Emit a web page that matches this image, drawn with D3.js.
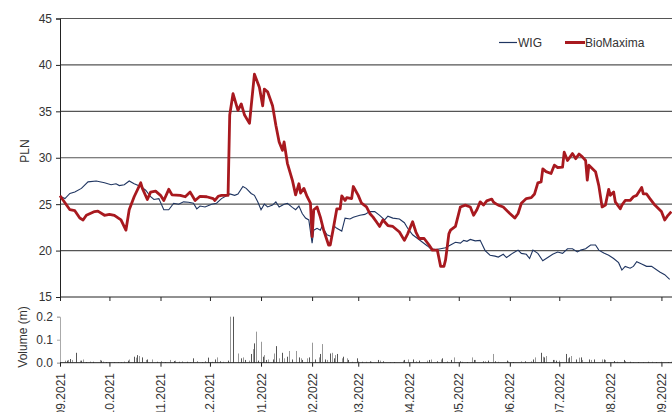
<!DOCTYPE html>
<html><head><meta charset="utf-8">
<script src="https://cdn.jsdelivr.net/npm/d3@7/dist/d3.min.js"></script>
<style>
html,body{margin:0;padding:0;background:#fff;}
svg text{font-family:"Liberation Sans",Arial,sans-serif;font-size:12px;fill:#333;}
</style></head>
<body><svg id="c" width="672" height="412"></svg>
<script>
const bioMaxima = [
["2021-09-01",25.9],["2021-09-07",24.4],["2021-09-10",24.3],["2021-09-13",23.5],["2021-09-15",23.3],["2021-09-17",23.8],
["2021-09-22",24.2],["2021-09-24",24.25],["2021-09-28",23.8],["2021-10-01",23.9],["2021-10-04",23.8],["2021-10-08",23.3],
["2021-10-11",22.2],["2021-10-13",24.4],["2021-10-16",25.8],["2021-10-20",27.3],["2021-10-21",26.7],["2021-10-24",25.5],
["2021-10-26",26.3],["2021-10-29",26.4],["2021-11-01",25.95],["2021-11-03",25.4],["2021-11-06",26.6],["2021-11-08",26.0],
["2021-11-13",25.95],["2021-11-16",25.8],["2021-11-19",26.3],["2021-11-22",25.4],["2021-11-25",25.85],["2021-11-29",25.8],
["2021-12-03",25.6],["2021-12-04",25.4],["2021-12-06",25.85],["2021-12-08",25.95],["2021-12-12",25.95],["2021-12-13",34.6],
["2021-12-15",36.9],["2021-12-18",35.1],["2021-12-20",35.8],["2021-12-22",34.6],["2021-12-25",33.7],["2021-12-26",35.5],
["2021-12-28",39.0],["2021-12-31",37.6],["2022-01-02",35.6],["2022-01-03",37.4],["2022-01-05",37.1],["2022-01-08",35.6],
["2022-01-10",33.5],["2022-01-12",31.7],["2022-01-14",30.8],["2022-01-15",31.7],["2022-01-17",29.4],["2022-01-20",27.6],
["2022-01-22",26.0],["2022-01-24",27.2],["2022-01-25",26.2],["2022-01-27",26.7],["2022-01-29",25.8],["2022-01-31",25.1],
["2022-02-01",21.5],["2022-02-02",24.4],["2022-02-04",24.7],["2022-02-06",23.6],["2022-02-08",22.2],["2022-02-11",20.6],
["2022-02-12",20.6],["2022-02-14",22.5],["2022-02-16",24.5],["2022-02-18",24.5],["2022-02-19",25.9],["2022-02-21",25.4],
["2022-02-22",25.7],["2022-02-25",25.6],["2022-02-26",26.9],["2022-03-01",25.95],["2022-03-03",25.1],["2022-03-06",24.7],
["2022-03-08",24.0],["2022-03-10",23.6],["2022-03-12",23.1],["2022-03-14",22.6],["2022-03-16",23.3],["2022-03-19",22.7],
["2022-03-22",22.6],["2022-03-26",22.0],["2022-03-29",21.1],["2022-03-31",21.8],["2022-04-03",23.1],["2022-04-05",22.0],
["2022-04-07",21.3],["2022-04-10",21.3],["2022-04-13",20.6],["2022-04-15",20.05],["2022-04-18",20.05],["2022-04-20",18.3],
["2022-04-22",18.3],["2022-04-23",19.0],["2022-04-25",21.8],["2022-04-26",22.2],["2022-04-29",22.6],["2022-05-02",24.7],
["2022-05-05",24.9],["2022-05-08",24.7],["2022-05-10",23.8],["2022-05-12",24.4],["2022-05-14",25.25],["2022-05-16",24.9],
["2022-05-18",25.35],["2022-05-21",25.55],["2022-05-22",25.25],["2022-05-23",25.1],["2022-05-25",24.9],["2022-05-28",24.7],
["2022-06-01",24.0],["2022-06-04",23.5],["2022-06-06",24.0],["2022-06-08",25.1],["2022-06-11",25.6],["2022-06-14",25.7],
["2022-06-16",26.1],["2022-06-18",27.3],["2022-06-20",27.4],["2022-06-21",28.8],["2022-06-23",28.5],["2022-06-26",28.3],
["2022-06-28",29.2],["2022-06-30",28.95],["2022-07-03",29.0],["2022-07-04",30.6],["2022-07-06",29.7],["2022-07-09",30.45],
["2022-07-11",29.9],["2022-07-13",30.4],["2022-07-15",30.1],["2022-07-17",29.7],["2022-07-18",27.6],["2022-07-19",29.2],
["2022-07-23",28.5],["2022-07-25",27.0],["2022-07-27",24.7],["2022-07-29",24.9],["2022-07-31",26.6],["2022-08-01",25.95],
["2022-08-03",26.3],["2022-08-04",25.25],["2022-08-07",24.5],["2022-08-08",24.9],["2022-08-10",25.4],["2022-08-13",25.4],
["2022-08-15",25.8],["2022-08-17",25.95],["2022-08-20",26.8],["2022-08-21",26.1],["2022-08-23",26.1],["2022-08-25",25.6],
["2022-08-28",24.9],["2022-09-01",24.2],["2022-09-03",23.3],["2022-09-05",23.8],["2022-09-07",24.2]
];
const wig = [
["2021-09-01",25.86],["2021-09-04",25.6],["2021-09-07",26.15],["2021-09-10",26.3],["2021-09-14",26.7],["2021-09-18",27.4],
["2021-09-23",27.5],["2021-09-28",27.3],["2021-10-02",27.1],["2021-10-05",27.2],["2021-10-07",27.0],["2021-10-10",27.1],
["2021-10-13",27.5],["2021-10-16",27.2],["2021-10-20",26.9],["2021-10-23",26.5],["2021-10-26",25.8],["2021-10-28",25.5],
["2021-10-31",25.6],["2021-11-03",24.4],["2021-11-06",24.4],["2021-11-09",25.1],["2021-11-12",25.0],["2021-11-15",25.25],
["2021-11-18",25.2],["2021-11-21",25.1],["2021-11-23",24.5],["2021-11-25",24.8],["2021-11-28",24.7],["2021-12-02",25.0],
["2021-12-05",25.1],["2021-12-08",25.6],["2021-12-13",26.1],["2021-12-16",25.95],["2021-12-18",26.1],["2021-12-21",26.9],
["2021-12-23",26.7],["2021-12-26",26.15],["2021-12-28",25.95],["2021-12-30",25.25],["2022-01-01",24.4],["2022-01-03",25.0],
["2022-01-05",24.7],["2022-01-08",24.9],["2022-01-10",25.25],["2022-01-12",24.7],["2022-01-15",25.0],["2022-01-17",25.1],
["2022-01-20",24.65],["2022-01-22",24.4],["2022-01-24",24.8],["2022-01-26",24.0],["2022-01-28",23.5],["2022-01-30",23.3],
["2022-02-01",20.8],["2022-02-02",22.2],["2022-02-04",22.4],["2022-02-06",22.2],["2022-02-07",22.6],["2022-02-10",21.7],
["2022-02-13",21.5],["2022-02-14",22.7],["2022-02-16",22.4],["2022-02-19",22.1],["2022-02-21",23.5],["2022-02-24",23.4],
["2022-02-26",23.6],["2022-03-02",23.8],["2022-03-05",23.9],["2022-03-08",24.2],["2022-03-11",24.2],["2022-03-14",23.8],
["2022-03-17",23.3],["2022-03-19",23.7],["2022-03-22",23.5],["2022-03-26",23.4],["2022-03-29",23.0],["2022-03-31",22.4],
["2022-04-03",21.7],["2022-04-06",21.3],["2022-04-09",20.9],["2022-04-12",20.5],["2022-04-14",20.2],["2022-04-17",20.1],
["2022-04-20",20.2],["2022-04-23",20.3],["2022-04-26",20.6],["2022-04-29",20.9],["2022-05-02",20.8],["2022-05-04",21.1],
["2022-05-06",21.0],["2022-05-08",21.2],["2022-05-11",21.05],["2022-05-14",21.1],["2022-05-17",20.0],["2022-05-20",19.5],
["2022-05-23",19.4],["2022-05-25",19.3],["2022-05-28",19.6],["2022-05-30",19.25],["2022-06-03",19.75],["2022-06-06",20.05],
["2022-06-08",19.7],["2022-06-11",19.6],["2022-06-13",19.15],["2022-06-15",20.05],["2022-06-18",19.7],["2022-06-21",18.9],
["2022-06-24",19.25],["2022-06-27",19.6],["2022-06-30",19.85],["2022-07-03",19.7],["2022-07-06",20.2],["2022-07-09",20.2],
["2022-07-12",19.85],["2022-07-14",20.05],["2022-07-17",20.2],["2022-07-20",20.6],["2022-07-23",20.6],["2022-07-25",20.05],
["2022-07-28",19.75],["2022-07-31",19.5],["2022-08-03",19.15],["2022-08-06",18.7],["2022-08-08",17.9],["2022-08-10",18.3],
["2022-08-13",18.1],["2022-08-15",18.3],["2022-08-17",18.8],["2022-08-20",18.55],["2022-08-23",18.3],["2022-08-26",18.3],
["2022-08-31",17.7],["2022-09-03",17.4],["2022-09-06",16.9]
];
const volume = [
["2021-09-01",0.019],["2021-09-04",0.009],["2021-09-05",0.009],["2021-09-06",0.012],["2021-09-07",0.016],["2021-09-08",0.012],
["2021-09-11",0.043],["2021-09-13",0.009],["2021-09-14",0.009],["2021-09-15",0.014],["2021-09-17",0.003],["2021-09-19",0.005],
["2021-09-21",0.004],["2021-09-25",0.012],["2021-09-26",0.009],["2021-09-27",0.005],["2021-09-29",0.003],["2021-10-01",0.003],
["2021-10-04",0.002],["2021-10-06",0.003],["2021-10-08",0.002],["2021-10-10",0.005],["2021-10-12",0.009],["2021-10-13",0.014],
["2021-10-16",0.026],["2021-10-17",0.022],["2021-10-18",0.033],["2021-10-19",0.029],["2021-10-21",0.023],["2021-10-23",0.012],
["2021-10-24",0.014],["2021-10-27",0.014],["2021-10-30",0.004],["2021-11-01",0.007],["2021-11-04",0.003],["2021-11-07",0.012],
["2021-11-09",0.007],["2021-11-10",0.009],["2021-11-12",0.004],["2021-11-14",0.006],["2021-11-17",0.004],["2021-11-19",0.003],
["2021-11-21",0.019],["2021-11-23",0.007],["2021-11-26",0.003],["2021-11-28",0.007],["2021-11-30",0.022],["2021-12-02",0.004],
["2021-12-04",0.014],["2021-12-05",0.023],["2021-12-07",0.006],["2021-12-09",0.004],["2021-12-12",0.009],["2021-12-13",0.2],
["2021-12-15",0.2],["2021-12-18",0.04],["2021-12-20",0.019],["2021-12-21",0.023],["2021-12-22",0.012],["2021-12-25",0.009],
["2021-12-26",0.038],["2021-12-27",0.059],["2021-12-28",0.084],["2021-12-29",0.135],["2021-12-30",0.009],["2022-01-01",0.091],
["2022-01-02",0.026],["2022-01-03",0.033],["2022-01-04",0.012],["2022-01-05",0.014],["2022-01-08",0.014],["2022-01-09",0.04],
["2022-01-10",0.072],["2022-01-12",0.019],["2022-01-14",0.043],["2022-01-15",0.019],["2022-01-17",0.026],["2022-01-18",0.051],
["2022-01-20",0.014],["2022-01-22",0.051],["2022-01-24",0.023],["2022-01-25",0.019],["2022-01-26",0.012],["2022-01-29",0.019],
["2022-01-30",0.023],["2022-02-01",0.087],["2022-02-03",0.014],["2022-02-05",0.023],["2022-02-06",0.038],["2022-02-07",0.081],
["2022-02-09",0.014],["2022-02-10",0.012],["2022-02-12",0.04],["2022-02-13",0.043],["2022-02-14",0.019],["2022-02-15",0.033],
["2022-02-16",0.038],["2022-02-19",0.019],["2022-02-20",0.026],["2022-02-22",0.019],["2022-02-23",0.012],["2022-02-25",0.004],
["2022-02-28",0.019],["2022-03-01",0.006],["2022-03-03",0.004],["2022-03-06",0.004],["2022-03-08",0.006],["2022-03-09",0.004],
["2022-03-13",0.012],["2022-03-14",0.009],["2022-03-16",0.006],["2022-03-20",0.003],["2022-03-23",0.003],["2022-03-28",0.009],
["2022-03-29",0.012],["2022-03-31",0.014],["2022-04-03",0.014],["2022-04-05",0.006],["2022-04-07",0.009],["2022-04-12",0.009],
["2022-04-13",0.012],["2022-04-14",0.014],["2022-04-18",0.006],["2022-04-20",0.014],["2022-04-21",0.019],["2022-04-24",0.006],
["2022-04-26",0.012],["2022-04-28",0.023],["2022-05-02",0.006],["2022-05-03",0.004],["2022-05-06",0.003],["2022-05-09",0.023],
["2022-05-10",0.012],["2022-05-11",0.012],["2022-05-16",0.006],["2022-05-17",0.006],["2022-05-19",0.009],["2022-05-22",0.038],
["2022-05-23",0.006],["2022-05-25",0.004],["2022-05-30",0.009],["2022-05-31",0.005],["2022-06-03",0.003],["2022-06-08",0.006],
["2022-06-10",0.006],["2022-06-14",0.006],["2022-06-15",0.014],["2022-06-16",0.023],["2022-06-20",0.043],["2022-06-21",0.026],
["2022-06-22",0.023],["2022-06-23",0.029],["2022-06-27",0.012],["2022-06-28",0.012],["2022-06-29",0.009],["2022-07-01",0.009],
["2022-07-05",0.038],["2022-07-06",0.019],["2022-07-07",0.023],["2022-07-08",0.029],["2022-07-11",0.014],["2022-07-13",0.022],
["2022-07-14",0.023],["2022-07-15",0.012],["2022-07-19",0.014],["2022-07-20",0.012],["2022-07-22",0.014],["2022-07-27",0.014],
["2022-07-28",0.014],["2022-07-29",0.012],["2022-08-03",0.007],["2022-08-05",0.004],["2022-08-09",0.012],["2022-08-10",0.007],
["2022-08-13",0.004],["2022-08-15",0.003],["2022-08-18",0.003],["2022-08-21",0.003],["2022-08-24",0.004],["2022-08-26",0.004],
["2022-08-29",0.003],["2022-09-01",0.004],["2022-09-05",0.003],["2022-09-07",0.004]
];
const priceTicks = [15,20,25,30,35,40,45];
const volumeTicks = [0.0,0.1,0.2];
const seriesNames = ["WIG","BioMaxima"];

const parse = d3.timeParse("%Y-%m-%d");
const svg = d3.select("#c");
const left = 60, right = 672;
const x = d3.scaleTime().domain([parse("2021-09-01"), new Date(2022,8,7,10)]).range([left, right]);
const y = d3.scaleLinear().domain([15,45]).range([297,18.5]);
const yv = d3.scaleLinear().domain([0,0.2]).range([362.7,316.7]).clamp(true);
const monthTicks = d3.timeMonth.range(parse("2021-09-01"), parse("2022-09-02"));
const fmt = d3.timeFormat("%m.%Y");

// grid
svg.append("g").selectAll("line").data(priceTicks.filter(t=>t>15)).join("line")
  .attr("x1",left).attr("x2",right).attr("y1",d=>y(d)).attr("y2",d=>y(d))
  .attr("stroke","#555").attr("stroke-width",1.2);

// price y axis
const ya = svg.append("g").attr("transform",`translate(${left},0)`)
  .call(d3.axisLeft(y).tickValues(priceTicks).tickSize(4).tickPadding(4).tickFormat(d3.format("d")));
ya.select(".domain").attr("stroke","#222");
ya.selectAll(".tick line").attr("stroke","#222");
ya.selectAll("text").style("font-size","12px").attr("fill","#333");

// price x axis
const xa = svg.append("g").attr("transform","translate(0,297)")
  .call(d3.axisBottom(x).tickValues(monthTicks).tickSize(4).tickFormat(""));
xa.select(".domain").attr("stroke","#222").attr("d",`M${left},0H${right}`);
xa.selectAll(".tick line").attr("stroke","#222");

// lines
const line = d3.line().x(d=>x(parse(d[0]))).y(d=>y(d[1]));
svg.append("path").datum(wig).attr("d",line).attr("fill","none").attr("stroke","#1f3561").attr("stroke-width",1.1);
svg.append("path").datum(bioMaxima).attr("d",line).attr("fill","none").attr("stroke","#a8191f").attr("stroke-width",2.8).attr("stroke-linejoin","round");

// legend
const lg = svg.append("g");
lg.append("line").attr("x1",499).attr("x2",517).attr("y1",42.5).attr("y2",42.5).attr("stroke","#1f3561").attr("stroke-width",1.2);
lg.append("text").attr("x",518).attr("y",47).text(seriesNames[0]);
lg.append("line").attr("x1",565).attr("x2",585).attr("y1",42.5).attr("y2",42.5).attr("stroke","#a8191f").attr("stroke-width",3);
lg.append("text").attr("x",585).attr("y",47).text(seriesNames[1]);

// PLN label
svg.append("text").attr("transform","translate(29,151) rotate(-90)").attr("text-anchor","middle").text("PLN");

// volume bars
svg.append("g").selectAll("line").data(volume).join("line")
  .attr("x1",d=>Math.round(x(parse(d[0])))+0.5).attr("x2",d=>Math.round(x(parse(d[0])))+0.5)
  .attr("y1",yv(0)).attr("y2",d=>yv(d[1]))
  .attr("stroke",(d,i)=>i%2?"#999":"#555").attr("stroke-width",1);

// volume y axis
const va = svg.append("g").attr("transform",`translate(${left},0)`)
  .call(d3.axisLeft(yv).tickValues(volumeTicks).tickSize(3).tickPadding(4).tickFormat(d3.format(".1f")));
va.select(".domain").attr("stroke","#aaa");
va.selectAll(".tick line").attr("stroke","#aaa");
va.selectAll("text").style("font-size","12px").attr("fill","#333");

// volume x axis
const vxa = svg.append("g").attr("transform",`translate(0,${yv(0)})`)
  .call(d3.axisBottom(x).tickValues(monthTicks).tickSize(4).tickFormat(""));
vxa.select(".domain").attr("stroke","#222").attr("d",`M${left},0H${right}`);
vxa.selectAll(".tick line").attr("stroke","#222");

// month labels
svg.append("g").selectAll("text").data(monthTicks).join("text")
  .attr("transform",d=>`translate(${x(d)+4.5},373) rotate(-90)`)
  .attr("text-anchor","end").text(d=>fmt(d));

// volume label
svg.append("text").attr("transform","translate(27,337) rotate(-90)").attr("text-anchor","middle").text("Volume (m)");
</script></body></html>
